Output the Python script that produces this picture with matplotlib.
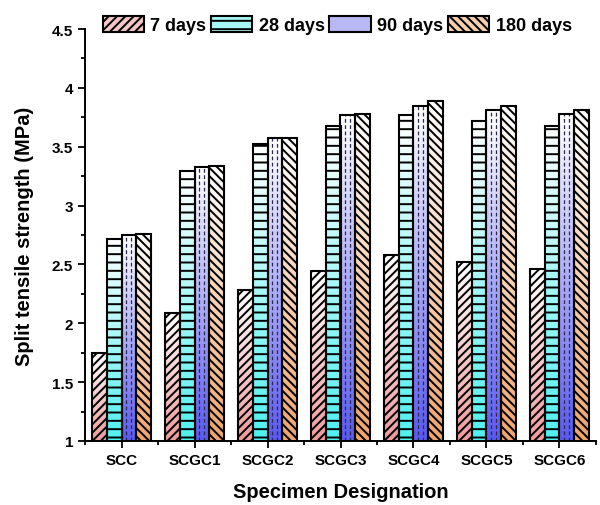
import numpy as np
import matplotlib.pyplot as plt
from matplotlib.patches import Rectangle
from matplotlib.colors import to_rgb
from matplotlib.ticker import MultipleLocator, FixedLocator, FuncFormatter

plt.rcParams['font.family'] = ['Liberation Sans', 'DejaVu Sans']
plt.rcParams['font.weight'] = 'bold'
plt.rcParams['hatch.linewidth'] = 1.4

# Split tensile strength (MPa) per mix and curing age
specimens = ['SCC', 'SCGC1', 'SCGC2', 'SCGC3', 'SCGC4', 'SCGC5', 'SCGC6']
days_7 = [1.75, 2.09, 2.28, 2.44, 2.58, 2.52, 2.46]
days_28 = [2.72, 3.29, 3.52, 3.68, 3.77, 3.72, 3.68]
days_90 = [2.75, 3.33, 3.57, 3.77, 3.85, 3.81, 3.78]
days_180 = [2.76, 3.34, 3.57, 3.78, 3.89, 3.85, 3.81]
ages = ['7 days', '28 days', '90 days', '180 days']

series = [days_7, days_28, days_90, days_180]
colors = ['#f09a9a', '#4ff0f0', '#5a5af0', '#f0a46c']
hatches = ['////', '--', '', '\\\\\\\\']

fig = plt.figure(figsize=(6, 5.06), dpi=100)
ax = fig.add_axes([0.1417, 0.1265, 0.8516, 0.8142])

x = np.arange(1, len(specimens) + 1)
w = 0.2
base = 1.0
for i, (vals, col, hat) in enumerate(zip(series, colors, hatches)):
    pos = x + (i - 1.5) * w
    bars = ax.bar(pos, vals, width=w, facecolor='none', edgecolor='black',
                  linewidth=1.5, hatch=hat, zorder=3)
    # vertical gradient: saturated at the bottom, white at the top
    rgb = np.array(to_rgb(col))
    t = np.linspace(0, 1, 64)[:, None, None]
    img = rgb * (1 - t) + np.ones(3) * t
    for b in bars:
        x0 = b.get_x()
        x1 = x0 + b.get_width()
        top = b.get_height()
        ax.imshow(img, extent=(x0, x1, base, top), origin='lower',
                  aspect='auto', interpolation='bilinear', zorder=2)
        if hat == '':
            # dashed vertical lines for the 90 day bars
            for fx in (1 / 3, 2 / 3):
                ax.plot([x0 + fx * w] * 2, [base, top], color='#2a2a50',
                        lw=0.9, ls=(0, (3, 2)), zorder=2.5)

ax.set_xlim(0.5, 7.5)
ax.set_ylim(1, 4.5)
ax.set_xticks(x)
ax.set_xticklabels(specimens)
ax.xaxis.set_minor_locator(FixedLocator(np.arange(0.5, 8, 1)))
ax.yaxis.set_major_locator(MultipleLocator(0.5))
ax.yaxis.set_minor_locator(MultipleLocator(0.25))
ax.yaxis.set_major_formatter(FuncFormatter(lambda v, _: f'{v:g}'))
ax.tick_params(which='major', direction='out', length=5, width=1.3, labelsize=11)
ax.tick_params(which='minor', direction='out', length=3, width=1.3)

for s in ['top', 'right']:
    ax.spines[s].set_visible(False)
for s in ['left', 'bottom']:
    ax.spines[s].set_linewidth(1.4)

ax.set_xlabel('Specimen Designation', fontsize=14.5, fontweight='bold', labelpad=11)
ax.set_ylabel('Split tensile strength (MPa)', fontsize=14.5, fontweight='bold', labelpad=13)

legend_fill = ['#f5c6c6', '#a8f5f5', '#b8b8f5', '#f5cfae']
legend_hatch = ['////', '--', '::', '\\\\\\\\']
handles = [Rectangle((0, 0), 1, 1, facecolor=fc, edgecolor='black', lw=1.5, hatch=h)
           for fc, h in zip(legend_fill, legend_hatch)]
fig.legend(handles, ages, loc='center', bbox_to_anchor=(0.562, 0.949), ncol=4,
           frameon=False, fontsize=13, handlelength=2.3, handleheight=1.0,
           handletextpad=0.35, columnspacing=0.25, borderpad=0.1)

fig.savefig('out.png', dpi=100)
